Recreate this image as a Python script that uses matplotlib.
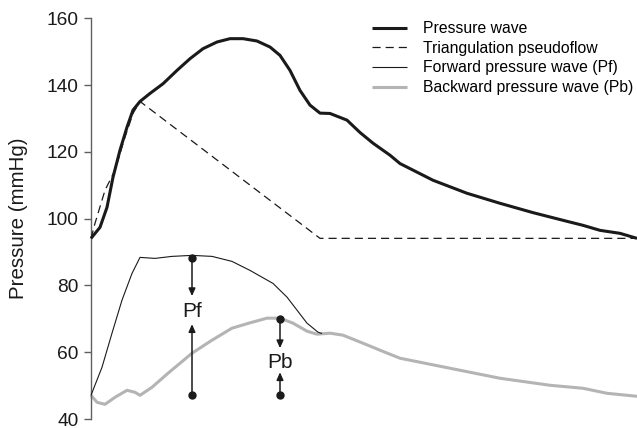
import matplotlib
matplotlib.use("Agg")
import matplotlib.pyplot as plt

plt.rcParams['font.family'] = ['Liberation Sans', 'DejaVu Sans']

# time axis is arbitrary (no x axis shown), values in mmHg
t_pw = [0, 9, 16, 22, 29, 36, 42, 49, 59, 72, 86, 99, 112, 126, 139, 152, 166,
        179, 189, 199, 209, 219, 229, 239, 256, 269, 282, 299, 309, 342, 376,
        409, 442, 476, 492, 509, 529, 546]
p_pw = [94.1, 97.4, 103.4, 112.4, 120.5, 127.4, 132.5, 135.1, 137.5, 140.4,
        144.4, 147.9, 150.9, 152.9, 153.9, 153.9, 153.2, 151.4, 148.9, 144.4,
        138.4, 134, 131.6, 131.5, 129.5, 125.8, 122.6, 119, 116.5, 111.5, 107.6,
        104.6, 101.8, 99.2, 98, 96.5, 95.6, 94.1]

t_tri = [0, 4, 14, 24, 34, 42, 49, 229, 546]
p_tri = [94.1, 98.6, 108.5, 114.5, 124.4, 131.5, 135.1, 94.1, 94.1]

t_pf = [0, 11, 21, 31, 41, 49, 64, 81, 101, 121, 141, 159, 182, 196, 206, 216,
        227, 231]
p_pf = [47.1, 55.5, 65.7, 75.6, 83.6, 88.4, 88.1, 88.7, 89, 88.7, 87.2, 84.5,
        80.6, 76.5, 72.6, 68.7, 66, 65.6]

t_pb = [0, 6, 14, 24, 36, 44, 49, 61, 77, 101, 121, 141, 159, 176, 189, 202,
        216, 226, 239, 252, 272, 289, 309, 359, 409, 459, 492, 516, 546]
p_pb = [47.1, 45, 44.4, 46.5, 48.6, 48, 47.1, 49.5, 53.7, 59.7, 63.6, 67.2, 68.8,
        70.2, 70.2, 68.7, 66.3, 65.4, 65.7, 65.1, 62.7, 60.6, 58.2, 55.2, 52.2,
        50.1, 49.2, 47.7, 46.8]

# Pf / Pb markers: time, top value, bottom value
pf_t, pf_top, pf_bot = 101, 88.1, 47.1
pb_t, pb_top, pb_bot = 189, 69.9, 47.1

fig = plt.figure(figsize=(6.37, 4.28), dpi=100)
ax = fig.add_axes([91 / 637, 9 / 428, 546 / 637, 400.7 / 428])

line_kw = dict(clip_on=False, solid_joinstyle='round', solid_capstyle='butt')
ax.plot(t_pw, p_pw, color='#1a1a1a', lw=2.2, label='Pressure wave', zorder=4,
        **line_kw)
ax.plot(t_tri, p_tri, color='#1a1a1a', lw=0.9, ls=(0, (6.5, 4)), clip_on=False,
        label='Triangulation pseudoflow', zorder=3)
ax.plot(t_pf, p_pf, color='#1a1a1a', lw=0.8, label='Forward pressure wave (Pf)',
        zorder=3, **line_kw)
ax.plot(t_pb, p_pb, color='#b4b4b4', lw=2.2, label='Backward pressure wave (Pb)',
        zorder=2, **line_kw)


def marker(t, top, bot, label, gap_top, gap_bot, mid):
    ax.plot([t, t], [top, bot], 'o', color='#1a1a1a', ms=5, zorder=5)
    arrow = dict(arrowstyle='-|>,head_length=0.45,head_width=0.2',
                 color='#1a1a1a', lw=1.1, shrinkA=0, shrinkB=0)
    ax.annotate('', xy=(t, mid + gap_top), xytext=(t, top), arrowprops=arrow)
    ax.annotate('', xy=(t, mid - gap_bot), xytext=(t, bot), arrowprops=arrow)
    ax.text(t, mid, label, ha='center', va='center', fontsize=15, color='#1a1a1a')


marker(pf_t, pf_top, pf_bot, 'Pf', 4.7, 3.7, 72.1)
marker(pb_t, pb_top, pb_bot, 'Pb', 4.4, 2.8, 56.8)

ax.set_xlim(0, 546)
ax.set_ylim(40, 160)
ax.set_yticks([40, 60, 80, 100, 120, 140, 160])
ax.set_xticks([])
for s in ['top', 'right', 'bottom']:
    ax.spines[s].set_visible(False)
ax.spines['left'].set_color('#606060')
ax.spines['left'].set_linewidth(1.0)
ax.tick_params(axis='y', direction='out', length=5, width=1.0, color='#606060',
               labelsize=13.8, labelcolor='#1a1a1a', pad=4)
ax.set_ylabel('Pressure (mmHg)', fontsize=14.8, color='#1a1a1a', va='center')
ax.yaxis.set_label_coords((18.5 - 91) / 546, 0.5)
ax.patch.set_alpha(0)

ax.legend(loc='upper left', bbox_to_anchor=(372 / 637, 1 - 21 / 428),
          bbox_transform=fig.transFigure, frameon=False, fontsize=11.3,
          handlelength=2.25, handletextpad=1.0, labelspacing=0.3,
          borderpad=0, borderaxespad=0)

fig.savefig('out.png', dpi=100)
